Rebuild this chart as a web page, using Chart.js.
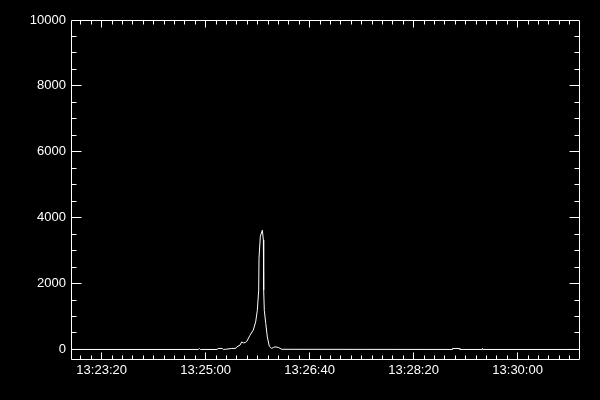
<!DOCTYPE html>
<html>
<head>
<meta charset="utf-8">
<script src="https://cdn.jsdelivr.net/npm/chart.js@4"></script>
<style>
  html, body { margin: 0; padding: 0; background: #000; }
</style>
</head>
<body>
<canvas id="lightCurve" width="600" height="400"></canvas>
<script>
// time in seconds of day (UT), counts
const times = [
    48170.5, 48293, 48294, 48295, 48311, 48312, 48316, 48317, 48319, 48325,
    48329, 48330, 48333, 48334.7, 48336.2, 48338, 48339.5, 48342.6, 48345.8, 48348.1,
    48349.7, 48351.0, 48351.3, 48352.6, 48354.5, 48355.5, 48355.8, 48356.4, 48357.8, 48359.3,
    48361.2, 48363.5, 48365.1, 48366.7, 48369.9, 48373.2, 48537, 48537.5, 48544, 48544.5,
    48566, 48566.3, 48566.8, 48660
];
const counts = [
    0, 0, 30, 0, 0, 30, 30, 0, 5, 30,
    35, 80, 130, 230, 200, 210, 240, 430, 590, 840,
    1190, 1800, 2770, 3440, 3620, 3320, 1800, 1190, 790, 380,
    100, 30, 60, 80, 60, 5, 0, 30, 30, 0,
    0, 30, 0, 0
];

const xMin = 48170.5, xMax = 48660;
const yMin = -320, yMax = 10000;
const xTickSeconds = [48200, 48300, 48400, 48500, 48600];
const yTickValues = [0, 2000, 4000, 6000, 8000, 10000];

function fmtTime(s) {
    const h = Math.floor(s / 3600);
    const m = Math.floor((s % 3600) / 60);
    const sec = Math.round(s % 60);
    return String(h).padStart(2, '0') + ':' + String(m).padStart(2, '0') + ':' + String(sec).padStart(2, '0');
}

// black background + IDL style box with inward ticks
const idlFrame = {
    id: 'idlFrame',
    beforeDraw(chart) {
        const ctx = chart.ctx;
        ctx.save();
        ctx.fillStyle = '#000';
        ctx.fillRect(0, 0, chart.width, chart.height);
        ctx.restore();
    },
    afterDraw(chart) {
        const { ctx, chartArea: a, scales: { x, y } } = chart;
        const L = a.left + 0.5, R = a.right - 0.5, T = a.top + 0.5, B = a.bottom - 0.5;
        ctx.save();
        ctx.strokeStyle = '#fff';
        ctx.lineWidth = 1;
        ctx.beginPath();
        ctx.rect(L, T, R - L, B - T);
        // x ticks every 10 s, major every 100 s
        for (let t = 48180; t < xMax; t += 10) {
            const px = Math.floor(x.getPixelForValue(t)) + 0.5;
            const len = (t % 100 === 0) ? 7 : 4;
            ctx.moveTo(px, B); ctx.lineTo(px, B - len);
            ctx.moveTo(px, T); ctx.lineTo(px, T + len);
        }
        // y ticks every 500, major every 2000
        for (let v = 0; v < yMax; v += 500) {
            const py = Math.floor(y.getPixelForValue(v)) + 0.5;
            const len = (v % 2000 === 0) ? 10 : 5;
            ctx.moveTo(L, py); ctx.lineTo(L + len, py);
            ctx.moveTo(R, py); ctx.lineTo(R - len, py);
        }
        ctx.stroke();
        ctx.restore();
    }
};

const points = times.map((t, i) => ({ x: t, y: counts[i] }));

new Chart(document.getElementById('lightCurve'), {
    type: 'line',
    data: {
        datasets: [{
            data: points,
            borderColor: '#fff',
            borderWidth: 1,
            pointRadius: 0,
            tension: 0,
            fill: false
        }]
    },
    options: {
        responsive: false,
        animation: false,
        layout: { padding: { top: 20, right: 20, left: 0, bottom: 0 } },
        plugins: { legend: { display: false }, tooltip: { enabled: false } },
        scales: {
            x: {
                type: 'linear',
                min: xMin,
                max: xMax,
                grid: { display: false, drawTicks: false },
                border: { display: false },
                afterBuildTicks: scale => { scale.ticks = xTickSeconds.map(v => ({ value: v })); },
                afterFit: scale => { scale.height = 40; },
                ticks: {
                    color: '#fff',
                    font: { family: 'Liberation Sans', size: 13 },
                    padding: 3,
                    maxRotation: 0,
                    autoSkip: false,
                    callback: v => fmtTime(v)
                }
            },
            y: {
                min: yMin,
                max: yMax,
                grid: { display: false, drawTicks: false },
                border: { display: false },
                afterBuildTicks: scale => { scale.ticks = yTickValues.map(v => ({ value: v })); },
                afterFit: scale => { scale.width = 71; },
                ticks: {
                    color: '#fff',
                    font: { family: 'Liberation Sans', size: 13 },
                    padding: 5,
                    autoSkip: false,
                    callback: v => String(v)
                }
            }
        }
    },
    plugins: [idlFrame]
});
</script>
</body>
</html>
